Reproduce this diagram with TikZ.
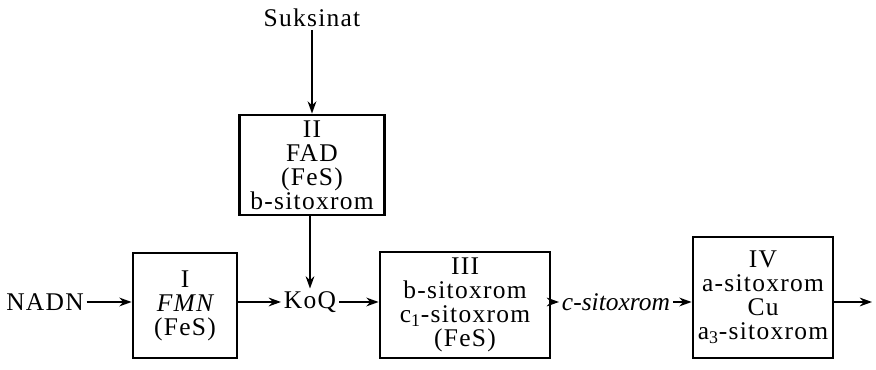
\documentclass[tikz,border=0pt]{standalone}
\usepackage{fontspec}
\setmainfont{Liberation Serif}[LetterSpace=5]
\usetikzlibrary{arrows.meta}
\begin{document}
\begin{tikzpicture}[
  bx/.style={rectangle, draw, line width=1.6pt, align=center, inner sep=1pt},
  lb/.style={inner sep=1.5pt},
  ar/.style={-{Stealth[length=7pt,width=5pt]}, line width=0.9pt},
  font=\fontsize{14.5}{13.6}\selectfont
]
\useasboundingbox (0,0) rectangle (17.52,7.4);
% vertical branch
\node[lb]  (suk)  at (6.24,7.04) {Suksinat};
\node[bx, minimum width=2.9cm, minimum height=2.0cm] (fad) at (6.24,4.1)
  {II\\FAD\\(FeS)\\b-sitoxrom};
\node[lb]  (koq)  at (6.2,1.36) {KoQ};
% main row
\node[lb]  (nadn) at (0.9,1.36) {NADN};
\node[bx, minimum width=2.08cm, minimum height=2.1cm] (fmn) at (3.7,1.29)
  {I\\\itshape FMN\\(FeS)};
\node[bx, minimum width=3.4cm, minimum height=2.12cm] (cyt3) at (9.3,1.3)
  {III\\b-sitoxrom\\c\textsubscript{1}-sitoxrom\\(FeS)};
\node[lb, font=\fontsize{14.5}{13.6}\selectfont\itshape\addfontfeature{LetterSpace=0}]
  (cytc) at (12.32,1.36) {c-sitoxrom};
\node[bx, minimum width=2.8cm, minimum height=2.42cm] (cyt4) at (15.26,1.45)
  {IV\\a-sitoxrom\\Cu\\a\textsubscript{3}-sitoxrom};
\coordinate (out) at (17.44,1.36);

\draw[ar] (suk) -- (fad);
\draw[ar] (fad.south -| koq) -- (koq);
\draw[ar] (nadn) -- (fmn.west |- nadn);
\draw[ar] (fmn.east |- koq) -- (koq);
\draw[ar] (koq) -- (cyt3.west |- koq);
\draw[ar] (cyt3.east |- cytc) -- (cytc);
\draw[ar] (cytc) -- (cyt4.west |- cytc);
\draw[ar] (cyt4.east |- out) -- (out);
\end{tikzpicture}
\end{document}
